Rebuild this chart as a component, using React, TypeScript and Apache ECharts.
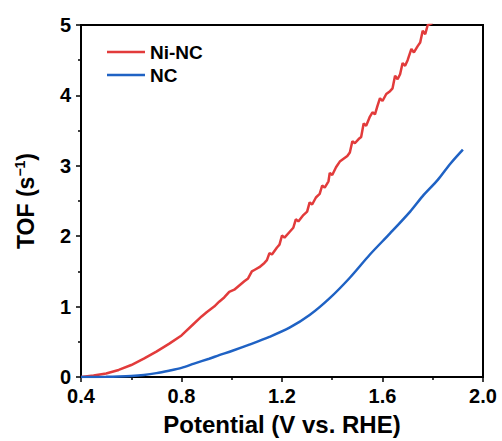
import React, { useEffect, useRef } from "react";
import * as echarts from "echarts";

const seriesNames = ["Ni-NC", "NC"];

const niNcPotential = [
  0.40, 0.45, 0.50, 0.55, 0.60, 0.65, 0.70, 0.75, 0.80, 0.85, 0.88, 0.90, 0.93, 0.95, 0.97, 0.99,
  1.01, 1.03, 1.05, 1.065, 1.08, 1.09, 1.11, 1.13, 1.14, 1.15, 1.16, 1.18, 1.19, 1.20, 1.21, 1.23,
  1.245, 1.255, 1.265, 1.285, 1.30, 1.31, 1.32, 1.335, 1.35, 1.36, 1.37, 1.385, 1.39, 1.40, 1.415,
  1.43, 1.445, 1.46, 1.47, 1.48, 1.49, 1.505, 1.515, 1.525, 1.535, 1.55, 1.56, 1.57, 1.58, 1.59,
  1.60, 1.615, 1.63, 1.64, 1.65, 1.66, 1.67, 1.68, 1.69, 1.70, 1.715, 1.725, 1.74, 1.75, 1.76,
  1.77, 1.78, 1.80,
];
const niNcTof = [
  0.00, 0.02, 0.05, 0.10, 0.17, 0.26, 0.36, 0.47, 0.59, 0.76, 0.86, 0.92, 1.00, 1.07, 1.13, 1.21,
  1.24, 1.30, 1.36, 1.40, 1.50, 1.52, 1.56, 1.62, 1.66, 1.76, 1.74, 1.84, 1.88, 2.01, 1.98, 2.06,
  2.12, 2.24, 2.21, 2.30, 2.35, 2.48, 2.45, 2.55, 2.60, 2.72, 2.69, 2.78, 2.90, 2.87, 2.98,
  3.06, 3.10, 3.14, 3.19, 3.35, 3.32, 3.38, 3.41, 3.60, 3.57, 3.70, 3.76, 3.73, 3.85, 3.96,
  3.92, 4.02, 4.06, 4.10, 4.28, 4.23, 4.30, 4.46, 4.42, 4.50, 4.66, 4.61, 4.70, 4.75, 4.92,
  4.87, 5.00, 5.03,
];

const ncPotential = [
  0.40, 0.50, 0.55, 0.60, 0.65, 0.70, 0.75, 0.80, 0.85, 0.91, 0.95, 1.00, 1.07, 1.15, 1.23, 1.31,
  1.39, 1.47, 1.55, 1.63, 1.71, 1.76, 1.82, 1.87, 1.92,
];
const ncTof = [
  0.00, 0.003, 0.007, 0.015, 0.03, 0.055, 0.09, 0.13, 0.19, 0.26, 0.31, 0.37, 0.46, 0.57, 0.70, 0.88,
  1.12, 1.41, 1.74, 2.04, 2.35, 2.57, 2.80, 3.03, 3.23,
];

const xTicks = [0.4, 0.8, 1.2, 1.6, 2.0];
const yTicks = [0, 1, 2, 3, 4, 5];

const FONT = '"Liberation Sans", Arial, Helvetica, sans-serif';

export default function App() {
  const ref = useRef<HTMLDivElement>(null);
  useEffect(() => {
    if (!ref.current) return;
    const chart = echarts.init(ref.current, null, { renderer: "svg" });
    const pair = (xs: number[], ys: number[]) => xs.map((x, i) => [x, ys[i]]);
    chart.setOption({
      animation: false,
      backgroundColor: "#fff",
      textStyle: { fontFamily: FONT },
      grid: {
        left: 81,
        top: 25,
        width: 402,
        height: 352,
        show: true,
        borderColor: "#000",
        borderWidth: 2,
        containLabel: false,
        outerBoundsMode: "none",
      },
      legend: {
        orient: "vertical",
        left: 102,
        top: 37,
        itemWidth: 38,
        itemHeight: 14,
        itemGap: 3,
        icon: "path://M0,6 L38,6 L38,8.5 L0,8.5 Z",
        data: seriesNames,
        textStyle: { fontFamily: FONT, fontSize: 19, fontWeight: "bold", color: "#000", lineHeight: 20 },
      },
      xAxis: {
        type: "value",
        min: xTicks[0],
        max: xTicks[xTicks.length - 1],
        interval: 0.4,
        name: "Potential (V vs. RHE)",
        nameLocation: "middle",
        nameGap: 35,
        nameTextStyle: { fontFamily: FONT, fontSize: 24, fontWeight: "bold", color: "#000" },
        axisLine: { show: true, onZero: false, lineStyle: { color: "#000", width: 2 } },
        axisTick: { show: true, inside: false, length: 5, lineStyle: { color: "#000", width: 1.5 } },
        minorTick: { show: true, splitNumber: 2, length: 3, lineStyle: { color: "#000", width: 1.5 } },
        splitLine: { show: false },
        axisLabel: {
          margin: 9,
          fontFamily: FONT,
          fontSize: 20,
          fontWeight: "bold",
          color: "#000",
          formatter: (v: number) => v.toFixed(1),
        },
      },
      yAxis: {
        type: "value",
        min: yTicks[0],
        max: yTicks[yTicks.length - 1],
        interval: 1,
        name: "{a|TOF (s}{b|−1}{a|)}",
        nameLocation: "middle",
        nameGap: 42,
        nameTextStyle: {
          fontFamily: FONT,
          fontSize: 23,
          fontWeight: "bold",
          color: "#000",
          rich: {
            a: { fontFamily: FONT, fontSize: 23, fontWeight: "bold", color: "#000", lineHeight: 26 },
            b: {
              fontFamily: FONT,
              fontSize: 14,
              fontWeight: "bold",
              color: "#000",
              lineHeight: 14,
              padding: [0, 0, 18, 0],
              verticalAlign: "top",
            },
          },
        },
        axisLine: { show: true, onZero: false, lineStyle: { color: "#000", width: 2 } },
        axisTick: { show: true, inside: false, length: 5, lineStyle: { color: "#000", width: 1.5 } },
        minorTick: { show: true, splitNumber: 2, length: 3, lineStyle: { color: "#000", width: 1.5 } },
        splitLine: { show: false },
        axisLabel: {
          margin: 10,
          fontFamily: FONT,
          fontSize: 20,
          fontWeight: "bold",
          color: "#000",
        },
      },
      series: [
        {
          name: seriesNames[0],
          type: "line",
          data: pair(niNcPotential, niNcTof),
          showSymbol: false,
          symbol: "none",
          clip: true,
          lineStyle: { color: "#e23b3b", width: 2.5 },
          itemStyle: { color: "#e23b3b" },
        },
        {
          name: seriesNames[1],
          type: "line",
          data: pair(ncPotential, ncTof),
          showSymbol: false,
          symbol: "none",
          smooth: 0.3,
          clip: true,
          lineStyle: { color: "#1f62c4", width: 2.5 },
          itemStyle: { color: "#1f62c4" },
        },
      ],
    });
    return () => chart.dispose();
  }, []);
  return (
    <div
      ref={ref}
      style={{ position: "fixed", left: 0, top: 0, width: 502, height: 441 }}
    />
  );
}
